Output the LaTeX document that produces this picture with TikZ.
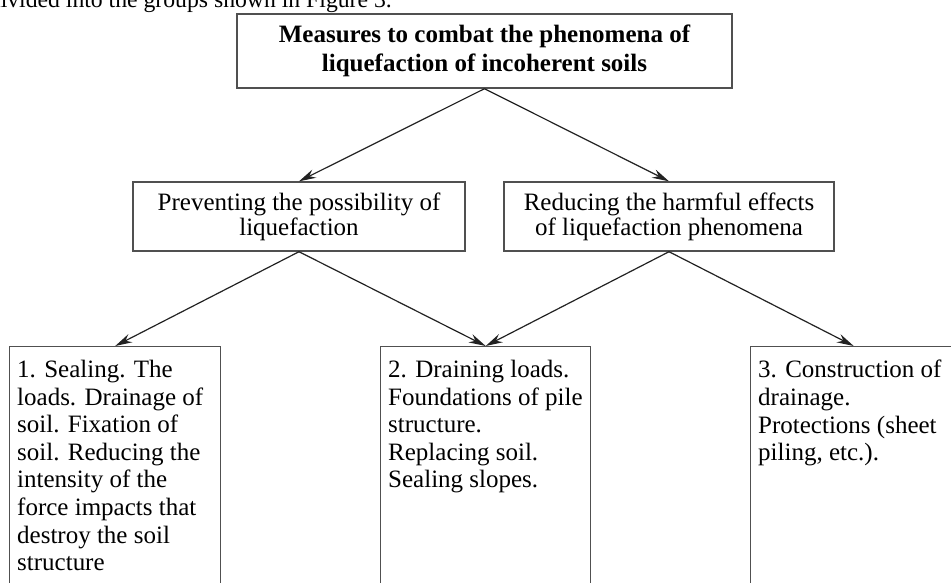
\documentclass[tikz,border=0pt]{standalone}
\usepackage{fontspec}
\setmainfont{Liberation Serif}
\usetikzlibrary{arrows.meta,calc}
\definecolor{boxgray}{HTML}{505050}
\definecolor{linegray}{HTML}{222222}
\begin{document}
\begin{tikzpicture}[x=1pt,y=-1pt,
  box/.style={draw=boxgray,line width=1.4pt,rectangle,inner sep=0pt},
  headbox/.style={box,align=center,font=\fontsize{25}{28.5}\selectfont\bfseries},
  midbox/.style={box,align=center,font=\fontsize{25}{25}\selectfont},
  txt/.style={align=left,inner sep=0pt,anchor=north west,font=\fontsize{25}{27.6}\selectfont},
  arr/.style={draw=linegray,line width=1.2pt,-{Stealth[length=17pt,width=9pt]}}]
\useasboundingbox (0,0) rectangle (951,582);
\node[anchor=base east,inner sep=0pt,font=\fontsize{23.7}{28}\selectfont] (cap) at (392,7) {divided into the groups shown in Figure 3.};
\node[headbox,minimum width=495pt,minimum height=74pt] (top) at (484.5,51) {Measures to combat the phenomena of\\liquefaction of incoherent soils};
\node[midbox,minimum width=332pt,minimum height=69pt] (m1) at (299,216.5) {Preventing the possibility of\\liquefaction};
\node[midbox,minimum width=330pt,minimum height=69pt] (m2) at (669,216.5) {Reducing the harmful effects\\of liquefaction phenomena};
\node[box,anchor=north west,minimum width=211pt,minimum height=260pt] (b1) at (9,346) {};
\node[box,anchor=north west,minimum width=210pt,minimum height=260pt] (b2) at (380,346) {};
\node[box,anchor=north west,minimum width=206pt,minimum height=260pt] (b3) at (750,346) {};
\node[txt] (t1) at ($(b1.north west)+(8,14)$) {1. Sealing. The\\loads. Drainage of\\soil. Fixation of\\soil. Reducing the\\intensity of the\\force impacts that\\destroy the soil\\structure};
\node[txt] (t2) at ($(b2.north west)+(8,14)$) {2. Draining loads.\\Foundations of pile\\structure.\\Replacing soil.\\Sealing slopes.};
\node[txt] (t3) at ($(b3.north west)+(8,14)$) {3. Construction of\\drainage.\\Protections (sheet\\piling, etc.).};
\draw[arr] (top.south) -- (m1.north);
\draw[arr] (top.south) -- (m2.north);
\draw[arr] (m1.south) -- (b1.north);
\draw[arr] (m1.south) -- (b2.north);
\draw[arr] (m2.south) -- (b2.north);
\draw[arr] (m2.south) -- (b3.north);
\end{tikzpicture}
\end{document}
